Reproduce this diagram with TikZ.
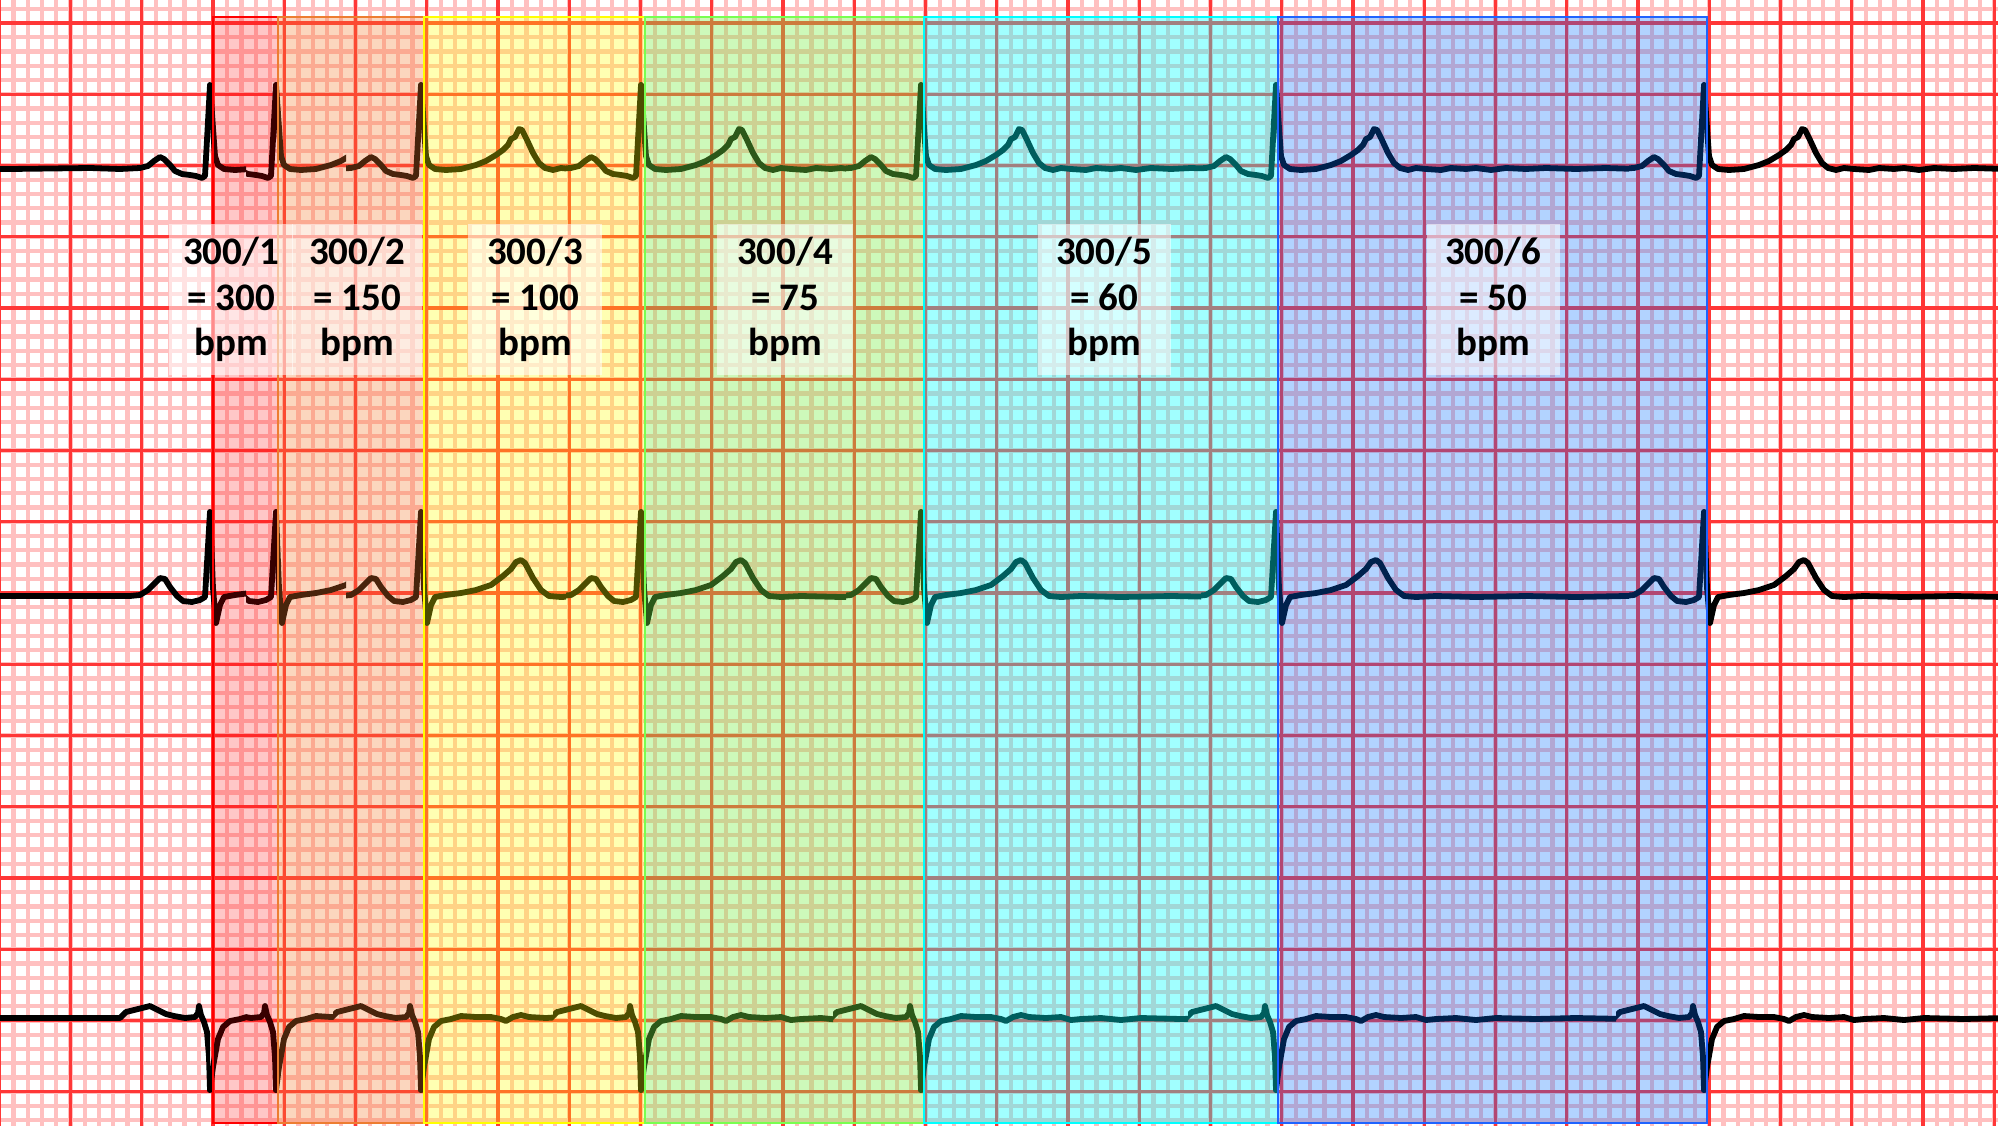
\documentclass[tikz,border=0pt]{standalone}
\usepackage{fontspec}
\setmainfont{Carlito}
\definecolor{minorc}{RGB}{255,192,192}
\definecolor{majorc}{RGB}{255,55,55}
\definecolor{bandR}{RGB}{255,0,0}
\definecolor{bandO}{RGB}{245,120,40}
\definecolor{bandY}{RGB}{255,255,0}
\definecolor{bandG}{RGB}{120,240,70}
\definecolor{bandC}{RGB}{0,255,255}
\definecolor{bandB}{RGB}{0,110,255}
\definecolor{brdR}{RGB}{255,0,0}
\definecolor{brdO}{RGB}{237,125,49}
\definecolor{brdY}{RGB}{255,255,0}
\definecolor{brdG}{RGB}{120,255,80}
\definecolor{brdC}{RGB}{0,255,255}
\definecolor{brdB}{RGB}{30,100,255}
\tikzset{
  minorline/.style={line width=2.2pt, minorc},
  majorline/.style={line width=1.7pt, majorc},
  ecg/.style={line width=2.9pt, black, line join=round, line cap=round},
  lbl/.style={fill=white, fill opacity=0.55, text opacity=1, inner sep=0pt,
    minimum height=75.5pt, align=center,
    font=\bfseries\fontsize{19.5}{22.75}\selectfont},
}
% row 1 (upright R, upright T)
\def\headA{(0,-81) -- (5,-10) -- (8,-1) -- (14,3) -- (25,4) -- (40,3) -- (55,-1) -- (65,-5) -- (75,-11) -- (82,-16) -- (87,-21) -- (90,-27) -- (94,-29) -- (98,-37) -- (101,-36) -- (106,-26) -- (112,-13) -- (118,-3) -- (124,2) -- (132,4) -- (140,2) -- (150,3) -- (165,4) -- (175,2) -- (190,3) -- (200,2) -- (215,4) -- (230,2) -- (250,3) -- (270,2) -- (300,3) -- (330,2) -- (360,3) -- (400,2) -- (450,3) -- (500,2) -- (600,3)}
\def\tailA{(-700,2) -- (-300,2) -- (-200,3) -- (-120,2) -- (-90,3) -- (-70,2) -- (-62,0) -- (-56,-5) -- (-50,-9) -- (-46,-7) -- (-40,-1) -- (-35,5) -- (-28,8) -- (-20,9) -- (-14,10) -- (-8,12) -- (-5,10) -- (0,-81)}
% row 2 (R with S dip)
\def\headB{(0,-81) -- (3,-5) -- (6,30) -- (10,12) -- (14,4) -- (25,2) -- (40,0) -- (55,-3) -- (70,-8) -- (82,-17) -- (90,-24) -- (95,-31) -- (100,-33) -- (104,-30) -- (112,-15) -- (120,-3) -- (128,3) -- (140,4) -- (160,3) -- (200,4) -- (250,3) -- (300,4) -- (350,3) -- (400,4) -- (500,3) -- (600,4)}
\def\tailB{(-700,3) -- (-200,3) -- (-80,3) -- (-70,2) -- (-62,-3) -- (-55,-10) -- (-50,-15) -- (-45,-14) -- (-40,-6) -- (-33,3) -- (-27,8) -- (-18,9) -- (-10,7) -- (-5,4) -- (0,-81)}
% row 3 (deep negative QRS)
\def\headC{(0,73) -- (3,50) -- (8,22) -- (13,10) -- (20,4) -- (30,2) -- (40,-1) -- (55,0) -- (70,0) -- (80,2) -- (85,4) -- (92,0) -- (100,-2) -- (108,0) -- (125,1) -- (140,0) -- (150,3) -- (160,2) -- (180,1) -- (200,3) -- (220,1) -- (260,2) -- (300,1) -- (350,2) -- (400,1) -- (450,2) -- (500,1) -- (600,2)}
\def\tailC{(-700,1) -- (-200,1) -- (-90,1) -- (-84,-5) -- (-76,-7) -- (-68,-9) -- (-60,-11) -- (-52,-7) -- (-44,-3) -- (-36,-1) -- (-25,1) -- (-15,0) -- (-12,-4) -- (-11,-11) -- (-9,-2) -- (-6,5) -- (-3,15) -- (-1,40) -- (0,73)}
\newcommand{\ecgrow}[4]{%
  \begin{scope}\clip (-10,#1-150) rectangle (210,#1+150); \draw[ecg,shift={(210,#1)}] #3; \end{scope}
  \foreach \xa/\xb in {210/276,276/421,421/641,641/921,921/1276,1276/1704}{%
    \pgfmathsetmacro{\tlen}{(\xb-\xa<100) ? 30 : min(#4,\xb-\xa-10)}
    \begin{scope}\clip (\xa-4,#1-150) rectangle (\xb-\tlen,#1+150); \draw[ecg,shift={(\xa,#1)}] #2; \end{scope}
    \begin{scope}\clip (\xb-\tlen,#1-150) rectangle (\xb+4,#1+150); \draw[ecg,shift={(\xb,#1)}] #3; \end{scope}
  }
  \begin{scope}\clip (1700,#1-150) rectangle (2010,#1+150); \draw[ecg,shift={(1704,#1)}] #2; \end{scope}
}
\begin{document}
\begin{tikzpicture}[x=0.5pt,y=-0.5pt]
\useasboundingbox (0,0) rectangle (1998,1125);
\clip (0,0) rectangle (1998,1125);
\fill[white] (0,0) rectangle (1998,1125);
% minor grid
\foreach \i in {-5,...,136} \draw[minorline] ({70.5+\i*14.25},-10) -- ++(0,1145);
\foreach \j in {-2,...,78} \draw[minorline] (-10,{23+\j*14.25}) -- ++(2020,0);
% major grid
\foreach \k in {-1,...,27} \draw[majorline] ({70.5+\k*71.25},-10) -- ++(0,1145);
\foreach \k in {-1,...,16} \draw[majorline] (-10,{23+\k*71.25}) -- ++(2020,0);
% traces
\ecgrow{166}{\headA}{\tailA}{75}
\ecgrow{593}{\headB}{\tailB}{75}
\ecgrow{1017}{\headC}{\tailC}{88}
% bands
\foreach \xa/\xb/\c/\op in {213/278/bandR/0.22, 278/424/bandO/0.3, 424/645/bandY/0.3, 645/924/bandG/0.37, 924/1278/bandC/0.37, 1278/1707/bandB/0.3}
  \fill[\c, fill opacity=\op] (\xa,17) rectangle (\xb,1123);
\foreach \xa/\xb/\c in {213/278/brdR, 278/424/brdO, 424/645/brdY, 645/924/brdG, 924/1278/brdC, 1278/1707/brdB}
  \draw[\c, line width=1.1pt] (\xa,17) rectangle (\xb,1123);
% labels
\node[lbl, minimum width=62pt] (l1) at (231,299.5) {300/1\\= 300\\bpm};
\node[lbl, minimum width=65pt] (l2) at (357,299.5) {300/2\\= 150\\bpm};
\node[lbl, minimum width=67pt] (l3) at (535,299.5) {300/3\\= 100\\bpm};
\node[lbl, minimum width=68pt] (l4) at (785,299.5) {300/4\\= 75\\bpm};
\node[lbl, minimum width=66.5pt] (l5) at (1104,299.5) {300/5\\= 60\\bpm};
\node[lbl, minimum width=66.5pt] (l6) at (1493,299.5) {300/6\\= 50\\bpm};
\end{tikzpicture}
\end{document}
